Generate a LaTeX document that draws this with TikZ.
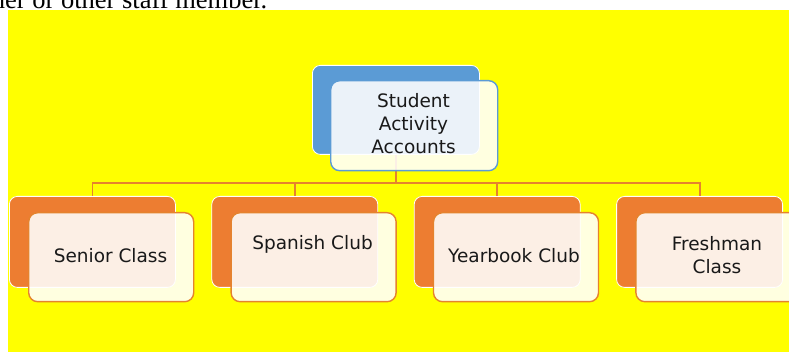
\documentclass[tikz,border=0pt]{standalone}
\usepackage{fontspec}
\usetikzlibrary{calc}
\setmainfont{DejaVu Sans}
\newfontfamily\seriffont{Liberation Serif}
\definecolor{bgyellow}{HTML}{FFFF00}
\definecolor{topblue}{HTML}{5B9BD5}
\definecolor{chorange}{HTML}{ED7D31}
\definecolor{lineorange}{HTML}{E5832E}
\begin{document}
\begin{tikzpicture}[x=1pt,y=-1pt,
  backbox/.style={draw=white,line width=0.8pt,rounded corners=8pt,minimum width=166pt,minimum height=90pt,inner sep=0pt,anchor=north west},
  frontbox/.style={line width=1.4pt,rounded corners=9pt,fill=white,fill opacity=0.88,text opacity=1,minimum width=166pt,minimum height=90pt,inner sep=0pt,anchor=north west},
  lbl/.style={inner sep=0pt,align=center,text=black!90,font=\fontsize{18.5}{23}\selectfont},
  conn/.style={draw=lineorange,line width=1.8pt}]
\useasboundingbox (0,0) rectangle (789,352);
\fill[bgyellow] (8,10) rectangle (800,360);
\node[anchor=base east,inner sep=0pt,font=\seriffont\fontsize{26.5}{30}\selectfont] (topline) at (267.5,8.5) {her or other staff member.};
% back boxes
\node[backbox,fill=topblue,minimum width=167pt,minimum height=89pt] (rootb) at (312,65) {};
\node[backbox,fill=chorange,minimum height=91pt] (c1b) at (9,196) {};
\node[backbox,fill=chorange,minimum height=91pt] (c2b) at (211.4,196) {};
\node[backbox,fill=chorange,minimum height=91pt] (c3b) at (413.8,196) {};
\node[backbox,fill=chorange,minimum height=91pt] (c4b) at (616.2,196) {};
% connectors
\coordinate (bus) at ($(rootb.south)+(0,28.5)$);
\foreach \c in {c1b,c2b,c3b,c4b}{\draw[conn] (rootb.south) -- (bus) -| (\c.north);}
% front boxes
\node[frontbox,draw=topblue,minimum width=167pt] (root) at (330,80) {};
\node[frontbox,draw=lineorange,minimum width=165pt,minimum height=89pt] (c1) at (28,212) {};
\node[frontbox,draw=lineorange,minimum width=165pt,minimum height=89pt] (c2) at (230.4,212) {};
\node[frontbox,draw=lineorange,minimum width=165pt,minimum height=89pt] (c3) at (432.8,212) {};
\node[frontbox,draw=lineorange,minimum width=165pt,minimum height=89pt] (c4) at (635.2,212) {};
% labels
\node[lbl] (rootl) at (413.5,124) {Student\\Activity\\Accounts};
\node[lbl] (c1l) at (110.5,255.5) {Senior Class};
\node[lbl] (c2l) at (312.5,244) {Spanish Club};
\node[lbl] (c3l) at (514,255.5) {Yearbook Club};
\node[lbl] (c4l) at (717,255.5) {Freshman\\Class};
\end{tikzpicture}
\end{document}
